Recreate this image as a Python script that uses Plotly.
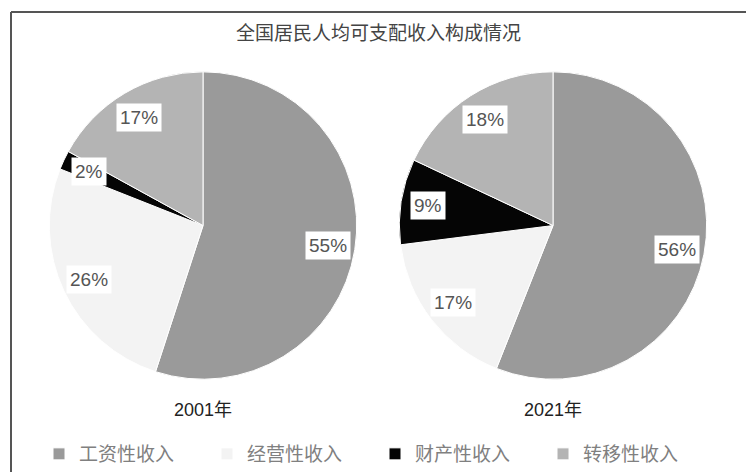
import math
import plotly.graph_objects as go

W, H = 746, 473

title_text = "全国居民人均可支配收入构成情况"
categories = ["工资性收入", "经营性收入", "财产性收入", "转移性收入"]
years = ["2001年", "2021年"]
values_2001 = [55, 26, 2, 17]
values_2021 = [56, 17, 9, 18]
colors = ["#9a9a9a", "#f3f3f3", "#050505", "#b4b4b4"]

# pie geometry in pixels (centre x, centre y from top, radius)
pies = [
    dict(name=years[0], vals=values_2001, cx=203, cy=226, r=154),
    dict(name=years[1], vals=values_2021, cx=553, cy=226, r=154),
]

fig = go.Figure()
annotations = []
for i, p in enumerate(pies):
    cx, cy, r = p["cx"], p["cy"], p["r"]
    fig.add_trace(go.Pie(
        labels=categories,
        values=p["vals"],
        name=p["name"],
        sort=False,
        direction="clockwise",
        rotation=0,
        marker=dict(colors=colors, line=dict(color="#ffffff", width=1)),
        textinfo="none",
        hoverinfo="label+percent",
        domain=dict(x=[(cx - r) / W, (cx + r) / W],
                    y=[(H - cy - r) / H, (H - cy + r) / H]),
        showlegend=(i == 0),
    ))
    total = sum(p["vals"])
    cum = 0.0
    for v in p["vals"]:
        mid = (cum + v / 2) / total
        cum += v
        th = 2 * math.pi * mid
        k = 0.82
        xp = cx + k * r * math.sin(th)
        yp = cy - k * r * math.cos(th)
        annotations.append(dict(
            x=xp / W, y=1 - yp / H, xref="paper", yref="paper",
            xanchor="center", yanchor="middle",
            text=f"{round(100 * v / total)}%", showarrow=False,
            font=dict(family="Liberation Sans, Arial, sans-serif", size=19, color="#555555"),
            bgcolor="#ffffff", borderpad=3,
        ))
    annotations.append(dict(
        x=cx / W, y=1 - 411 / H, xref="paper", yref="paper",
        xanchor="center", yanchor="middle",
        text=p["name"], showarrow=False,
        font=dict(family="Liberation Sans, Noto Sans CJK SC, sans-serif", size=18, color="#222222"),
    ))

annotations.append(dict(
    x=378 / W, y=1 - 32 / H, xref="paper", yref="paper",
    xanchor="center", yanchor="middle",
    text=title_text, showarrow=False,
    font=dict(family="Noto Sans CJK SC, sans-serif", size=19, color="#444444"),
))

fig.update_layout(
    width=W, height=H,
    margin=dict(l=0, r=0, t=0, b=0),
    paper_bgcolor="#ffffff",
    plot_bgcolor="#ffffff",
    annotations=annotations,
    legend=dict(
        orientation="h", x=39 / W, y=1 - 455 / H, xanchor="left", yanchor="middle",
        font=dict(family="Noto Sans CJK SC, sans-serif", size=19, color="#808080"),
        entrywidth=123, entrywidthmode="pixels",
        bgcolor="rgba(0,0,0,0)",
    ),
    shapes=[
        dict(type="line", xref="paper", yref="paper", x0=11 / W, x1=11 / W, y0=0, y1=1 - 12 / H,
             line=dict(color="#555555", width=2)),
        dict(type="line", xref="paper", yref="paper", x0=11 / W, x1=1, y0=1 - 12 / H, y1=1 - 12 / H,
             line=dict(color="#555555", width=2)),
    ],
)

fig.write_html("out.html")
